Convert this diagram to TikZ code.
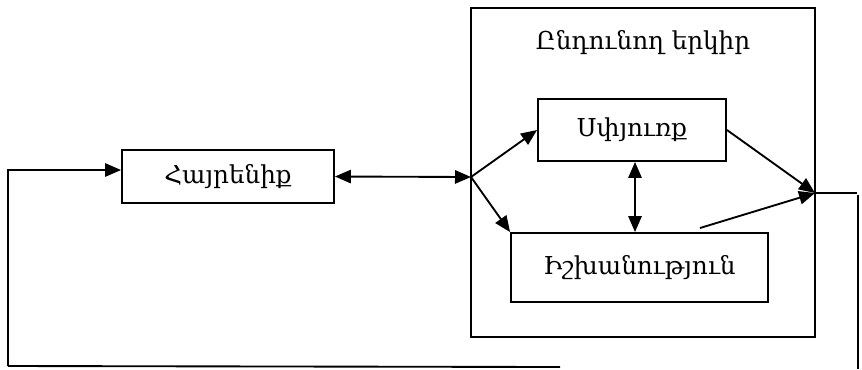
\documentclass[tikz,border=0pt]{standalone}
\usepackage{fontspec}
\setmainfont{DejaVu Serif}
\usetikzlibrary{arrows.meta}

\tikzset{every picture/.style={line width=1.4pt}}
\tikzset{
	blok/.style={draw, inner sep=0pt, font=\fontsize{18.5}{22}\selectfont},
	tip/.style={-{Triangle[length=12pt,width=10pt]}},
	tiptip/.style={{Triangle[length=12pt,width=10pt]}-{Triangle[length=12pt,width=10pt]}}
}

\begin{document}
\begin{tikzpicture}[x=0.75pt,y=0.75pt,yscale=-1,xscale=1]
	\useasboundingbox (0,0) rectangle (862,369);

	%Shape: Rectangle [id:hostcountry]
	\draw (471,8) rectangle (815,337);
	\node[font=\fontsize{18.5}{22}\selectfont] (title) at (643,43) {Ընդունող երկիր};

	%Shape: Rectangle [id:homeland]
	\node[blok, minimum width=159pt, minimum height=40pt] (homeland) at (228,176.5) {Հայրենիք};
	%Shape: Rectangle [id:diaspora]
	\node[blok, minimum width=141pt, minimum height=46.5pt] (diaspora) at (632,130) {Սփյուռք};
	%Shape: Rectangle [id:power]
	\node[blok, minimum width=192.75pt, minimum height=51.75pt] (power) at (639.5,267.5) {Իշխանություն};

	%Coordinates
	\coordinate (split) at (471,177);
	\coordinate (meet) at (815,193);
	\coordinate (rise) at (700,228);
	\coordinate (outr) at (857,193);
	\coordinate (rtop) at (858,195);
	\coordinate (rbot) at (858,369);
	\coordinate (ltop) at (8,170);
	\coordinate (lbot) at (8,366);
	\coordinate (bend) at (560,367);

	%Straight Lines
	\draw[tiptip] (homeland.east) -- (split);
	\draw[tip] (split) -- (diaspora.west);
	\draw[tip] (split) -- (power.north west);
	\draw[tiptip] (diaspora.south -| 635,0) -- (power.north -| 635,0);
	\draw[tip] (diaspora.east) -- (meet);
	\draw[tip] (rise) -- (meet);
	\draw (meet) -- (outr);
	\draw (rtop) -- (rbot);
	\draw[tip] (lbot) -- (ltop) -- (homeland.west |- ltop);
	\draw (lbot) -- (bend);
\end{tikzpicture}
\end{document}
